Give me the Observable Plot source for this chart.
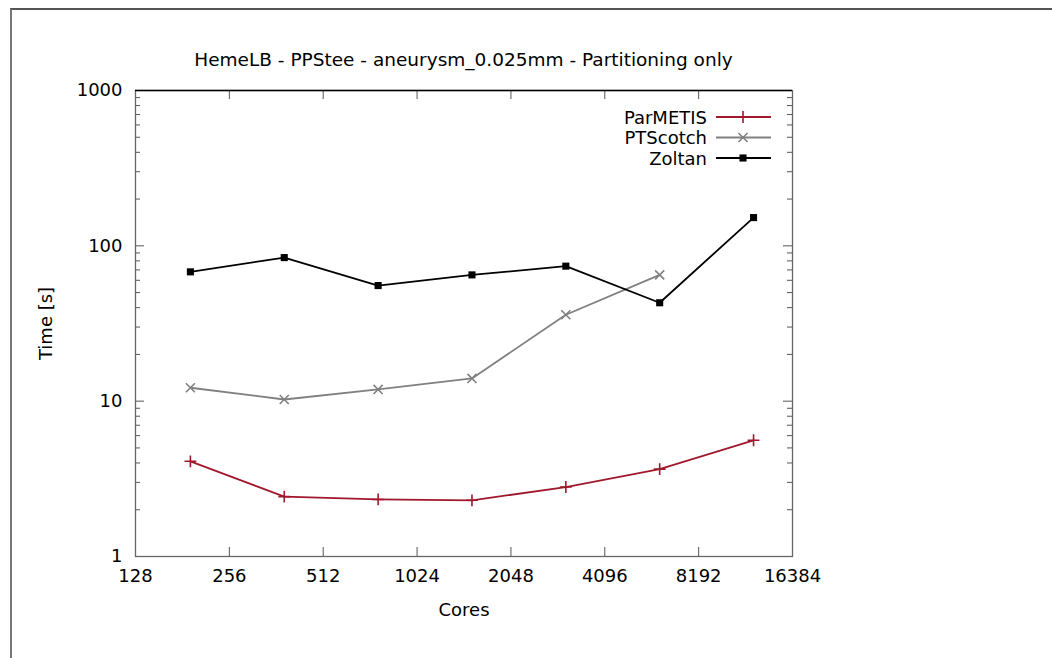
<!DOCTYPE html>
<html><head><meta charset="utf-8">
<script src="https://cdn.jsdelivr.net/npm/d3@7"></script>
<script src="https://cdn.jsdelivr.net/npm/@observablehq/plot@0.6"></script>
<style>
body{margin:0;background:#fff;font-family:"DejaVu Sans",sans-serif;}
#wrap{position:relative;width:1052px;height:658px;overflow:hidden;}
#border{position:absolute;left:10px;top:8px;width:1100px;height:700px;border-top:2px solid #555;border-left:2px solid #777;}
#title{position:absolute;top:49px;left:135px;width:657px;text-align:center;font-size:18.5px;color:#000;white-space:nowrap;}
#chart{position:absolute;left:0;top:0;}
#legend{position:absolute;left:0;top:0;}
</style></head>
<body>
<div id="wrap">
  <div id="border"></div>
  <div id="chart"></div>
  <div id="title">HemeLB - PPStee - aneurysm_0.025mm - Partitioning only</div>
  <svg id="legend" width="1052" height="658"></svg>
</div>
<script>
// ---- data ----
const cores = [192, 384, 768, 1536, 3072, 6144, 12288];
const parmetis = [4.1, 2.43, 2.33, 2.3, 2.8, 3.65, 5.6];
const ptscotch = [12.2, 10.25, 11.9, 14.0, 36, 65];
const zoltan = [68, 84, 55.5, 65, 74, 43, 152];
const seriesNames = ["ParMETIS", "PTScotch", "Zoltan"];
const seriesColors = ["#a0182c", "#808080", "#000000"];
const seriesSymbols = ["plus", "times", "square"];
const xTicks = [128, 256, 512, 1024, 2048, 4096, 8192, 16384];
const yMajor = [1, 10, 100, 1000];
const yMinor = [2,3,4,5,6,7,8,9,20,30,40,50,60,70,80,90,200,300,400,500,600,700,800,900];

const rows = [];
seriesNames.forEach((name, si) => {
  const vals = [parmetis, ptscotch, zoltan][si];
  vals.forEach((v, i) => rows.push({series: name, cores: cores[i], time: v}));
});

const W = 1052, H = 658, mL = 135, mR = 260, mT = 90, mB = 102;
const pw = W - mL - mR, ph = H - mT - mB;
const font = "'DejaVu Sans', sans-serif";
const fs = 18;
const tickCol = "#555";
const symR = {plus: 3.9, times: 4.2, square: 4};

const marks = [
  Plot.ruleY(yMajor, {y: d => d, insetRight: pw - 9, stroke: tickCol}),
  Plot.ruleY(yMajor, {y: d => d, insetLeft: pw - 9, stroke: tickCol}),
  Plot.ruleY(yMinor, {y: d => d, insetRight: pw - 5, stroke: tickCol}),
  Plot.ruleY(yMinor, {y: d => d, insetLeft: pw - 5, stroke: tickCol}),
  Plot.ruleX(xTicks, {x: d => d, insetTop: ph - 9, stroke: tickCol}),
  Plot.ruleX(xTicks, {x: d => d, insetBottom: ph - 9, stroke: tickCol}),
  Plot.frame({stroke: "#666", strokeWidth: 1.3}),
  Plot.ruleY([1000], {stroke: "#000", strokeWidth: 1.3}),
  Plot.axisX({ticks: xTicks, tickSize: 0, tickPadding: 13, tickFormat: d => String(d),
    label: "Cores", labelAnchor: "center", labelArrow: "none", labelOffset: 59, fontSize: fs}),
  Plot.axisY({ticks: yMajor, tickSize: 0, tickPadding: 13, tickFormat: d => String(d),
    label: "Time [s]", labelAnchor: "center", labelArrow: "none", labelOffset: 96, fontSize: fs}),
];
seriesNames.forEach((name, si) => {
  const d = rows.filter(r => r.series === name);
  const s = seriesSymbols[si];
  marks.push(Plot.line(d, {x: "cores", y: "time", stroke: seriesColors[si], strokeWidth: 1.8}));
  if (s === "square") {
    marks.push(Plot.dot(d, {x: "cores", y: "time", symbol: "square", r: symR[s], fill: seriesColors[si], stroke: "none"}));
  } else {
    marks.push(Plot.dot(d, {x: "cores", y: "time", symbol: s, r: symR[s],
      fill: "none", stroke: seriesColors[si], strokeWidth: 1.6}));
  }
});

const chart = Plot.plot({
  width: W, height: H, marginLeft: mL, marginRight: mR, marginTop: mT, marginBottom: mB,
  x: {type: "log", base: 2, domain: [128, 16384]},
  y: {type: "log", domain: [1, 1000]},
  style: {fontFamily: font, fontSize: fs + "px", color: "#000", background: "transparent", overflow: "visible"},
  marks
});
document.getElementById("chart").appendChild(chart);

// ---- legend ----
const lg = d3.select("#legend");
seriesNames.forEach((name, i) => {
  const y = 117 + i * 20.5;
  const s = seriesSymbols[i];
  lg.append("text").attr("x", 707).attr("y", y).attr("text-anchor", "end").attr("dominant-baseline", "central")
    .attr("font-family", font).attr("font-size", fs).text(name);
  lg.append("line").attr("x1", 716).attr("x2", 771).attr("y1", y).attr("y2", y)
    .attr("stroke", seriesColors[i]).attr("stroke-width", 1.8);
  const sym = {plus: d3.symbolPlus, times: d3.symbolTimes, square: d3.symbolSquare}[s];
  const p = lg.append("path").attr("transform", `translate(743,${y})`)
    .attr("d", d3.symbol(sym, Math.PI * symR[s] * symR[s])());
  if (s === "square") p.attr("fill", seriesColors[i]);
  else p.attr("fill", "none").attr("stroke", seriesColors[i]).attr("stroke-width", 1.6);
});
</script>
</body></html>
